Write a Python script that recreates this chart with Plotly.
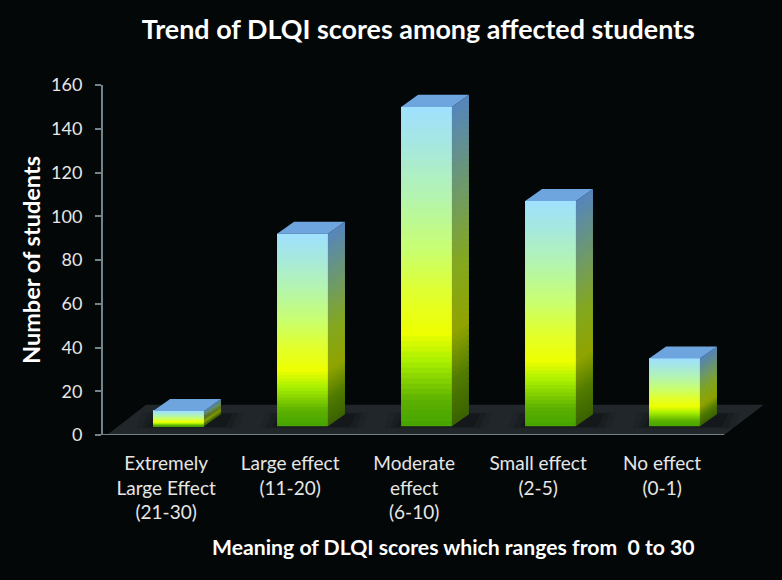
import plotly.graph_objects as go

categories = ["Extremely<br>Large Effect<br>(21-30)", "Large effect<br>(11-20)", "Moderate<br>effect<br>(6-10)", "Small effect<br>(2-5)", "No effect<br>(0-1)"]
students = [11, 92, 150, 107, 35]
y_ticks = [0, 20, 40, 60, 80, 100, 120, 140, 160]
title_text = "Trend of DLQI scores among affected students"
x_title_text = "Meaning of DLQI scores which ranges from  0 to 30"
y_title_text = "Number of students"

# 3D look (in axis units)
FLOOR_BASE = 4.0
BAR_W = 0.41
DX = 0.137
DY = 5.5
SLICES = 60
XMIN, XMAX = -0.609, 4.77
FLOOR_DEPTH = 13.8

FRONT = [(0, "#46a400"), (0.08, "#5cb000"), (0.2, "#a6ee00"), (0.29, "#eeff00"), (0.42, "#e0ff30"),
         (0.55, "#c8ff70"), (0.72, "#b4f4b0"), (0.88, "#a6e8e0"), (1, "#a0e0ff")]
SIDE = [(0, "#3a6200"), (0.14, "#517c00"), (0.29, "#90a400"), (0.5, "#84a820"), (0.72, "#6f9a68"), (1, "#5585bd")]
TOP_COLOR = "#6ea5de"


def ramp(stops, t):
    for (a, ca), (b, cb) in zip(stops, stops[1:]):
        if t <= b:
            f = (t - a) / (b - a)
            va = [int(ca[i:i + 2], 16) for i in (1, 3, 5)]
            vb = [int(cb[i:i + 2], 16) for i in (1, 3, 5)]
            return "rgb(%d,%d,%d)" % tuple(round(p + (q - p) * f) for p, q in zip(va, vb))
    return stops[-1][1]


def poly(xs, ys, color):
    return go.Scatter(x=xs, y=ys, mode="lines", fill="toself", fillcolor=color, line=dict(width=0),
                      hoverinfo="skip", showlegend=False)


def flat_shape(xs, ys, color):
    path = "M " + " L ".join("%g,%g" % p for p in zip(xs, ys)) + " Z"
    return dict(type="path", path=path, xref="x", yref="y", fillcolor=color, line=dict(width=0), layer="below")


shapes = [flat_shape([-0.577, 4.4, 4.72, -0.262], [0, 0, FLOOR_DEPTH, FLOOR_DEPTH], "#20262a")]
for i in range(len(students)):
    for grow, alpha in ((0.14, 0.08), (0.09, 0.12), (0.04, 0.2)):
        l, r = i - BAR_W / 2 - grow, i + BAR_W / 2 + DX + grow
        b, t = FLOOR_BASE - grow * 8, FLOOR_BASE + DY + grow * 6
        shapes.append(flat_shape([l, r, r + 0.05, l + 0.05], [b, b, t, t], "rgba(0,0,0,%.2f)" % alpha))

fig = go.Figure()

# axis baseline
fig.add_trace(go.Scatter(x=[XMIN, 4.4], y=[0, 0], mode="lines", line=dict(color="#74838a", width=2),
                         hoverinfo="skip", showlegend=False, cliponaxis=False))

# side and top faces
for i, v in enumerate(students):
    right = i + BAR_W / 2
    step = (v - FLOOR_BASE) / SLICES
    for s in range(SLICES):
        y0 = FLOOR_BASE + s * step
        y1 = y0 + step * 1.6 if s < SLICES - 1 else v
        c = ramp(SIDE, (s + 0.5) / SLICES)
        fig.add_trace(poly([right, right, right + DX, right + DX, right],
                           [y0, y1, y1 + DY, y0 + DY, y0], c))
    left = i - BAR_W / 2
    fig.add_trace(poly([left, right, right + DX, left + DX, left], [v, v, v + DY, v + DY, v], TOP_COLOR))

# front faces as thin stacked slices, each overlapping the next
xs, bases, heights, colors = [], [], [], []
for i, v in enumerate(students):
    step = (v - FLOOR_BASE) / SLICES
    for s in range(SLICES):
        xs.append(i)
        bases.append(FLOOR_BASE + s * step)
        heights.append(step * 2 if s < SLICES - 2 else step * (SLICES - s))
        colors.append(ramp(FRONT, (s + 0.5) / SLICES))
fig.add_trace(go.Bar(x=xs, y=heights, base=bases, width=BAR_W, marker=dict(color=colors, line=dict(width=0)),
                     hoverinfo="skip", showlegend=False))

fig.update_layout(
    width=782, height=580, autosize=False,
    paper_bgcolor="#040707", plot_bgcolor="#040707",
    margin=dict(l=103, r=12, t=85, b=145),
    font=dict(family="Lato, Open Sans, sans-serif", color="#e6e6e6", size=17),
    barmode="overlay", showlegend=False, shapes=shapes,
    title=dict(text="<b>" + title_text + "</b>", x=0.535, xanchor="center", y=0.949, yanchor="middle",
               font=dict(size=26.9, color="#ffffff")),
    xaxis=dict(range=[XMIN, XMAX], tickmode="array", tickvals=[i - 0.1 for i in range(5)], ticktext=categories,
               showgrid=False, zeroline=False, showline=False, ticks="", ticklabelstandoff=15,
               tickfont=dict(size=19, color="#e6e6e6")),
    yaxis=dict(range=[0, 160], tickmode="array", tickvals=y_ticks, showgrid=False, zeroline=False,
               showline=True, linecolor="#74838a", linewidth=2, ticks="outside", ticklen=6, tickwidth=1.5,
               tickcolor="#74838a", ticklabelstandoff=9, tickfont=dict(size=18, color="#e6e6e6"),
               title=dict(text="<b>" + y_title_text + "</b>", standoff=4, font=dict(size=23.5, color="#ffffff"))),
    annotations=[dict(text="<b>" + x_title_text + "</b>", xref="paper", yref="paper", x=(453.5 - 103) / 667,
                      y=-112 / 350, xanchor="center", yanchor="middle", showarrow=False,
                      font=dict(size=21.2, color="#ffffff"))],
)

fig.write_html("out.html", config=dict(displayModeBar=False), post_script="document.body.style.margin='0';")
